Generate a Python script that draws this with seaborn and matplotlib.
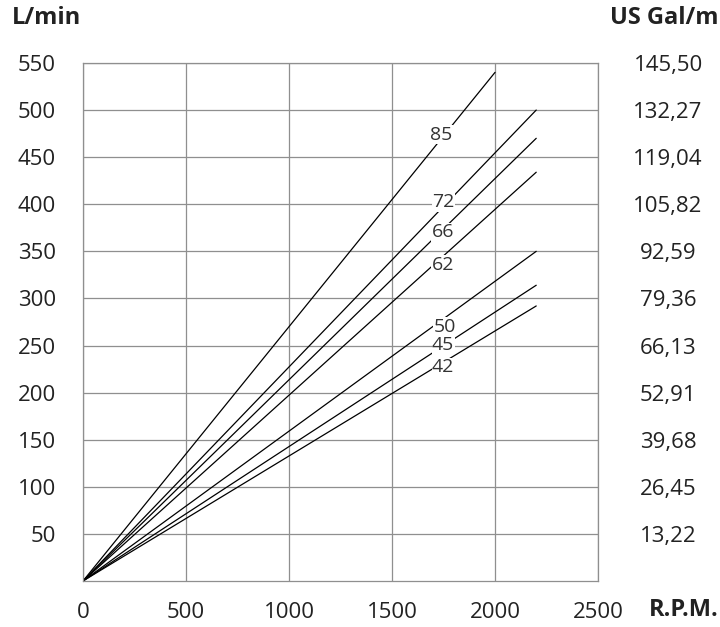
import pandas as pd
import matplotlib
matplotlib.use("Agg")
import matplotlib.pyplot as plt
import seaborn as sns

# pump curves: flow (L/min) at max rpm, lines start at origin
models = ["85", "72", "66", "62", "50", "45", "42"]
max_rpm = [2000, 2200, 2200, 2200, 2200, 2200, 2200]
max_flow = [540, 500, 470, 434, 350, 314, 292]
# where the curve labels sit (rpm, L/min)
label_x = [1738, 1748, 1748, 1748, 1757, 1748, 1748]
label_y = [474, 402, 370, 336, 270, 251, 227]

y_ticks = [50, 100, 150, 200, 250, 300, 350, 400, 450, 500, 550]
gal_labels = ["13,22", "26,45", "39,68", "52,91", "66,13", "79,36",
              "92,59", "105,82", "119,04", "132,27", "145,50"]
x_ticks = [0, 500, 1000, 1500, 2000, 2500]

rows = []
for m, r, f in zip(models, max_rpm, max_flow):
    rows.append({"model": m, "rpm": 0, "flow": 0})
    rows.append({"model": m, "rpm": r, "flow": f})
df = pd.DataFrame(rows)

sns.set_style("white")
plt.rcParams["font.family"] = ["Open Sans", "DejaVu Sans"]

fig = plt.figure(figsize=(7.2, 6.27), dpi=100)
ax = fig.add_axes([0.1153, 0.0734, 0.7153, 0.8262])

sns.lineplot(data=df, x="rpm", y="flow", hue="model",
             palette=["black"] * len(models), linewidth=0.9,
             legend=False, ax=ax)

# curve labels with a white box breaking the line behind them
for m, lx, ly in zip(models, label_x, label_y):
    ax.text(lx, ly, m, fontsize=14, color="#333333",
            ha="center", va="center", zorder=5,
            bbox=dict(facecolor="white", edgecolor="none", pad=0.3))

ax.set_xlim(0, 2500)
ax.set_ylim(0, 550)
ax.set_xticks(x_ticks)
ax.set_yticks(y_ticks)
ax.grid(True, color="#8f8f8f", linewidth=0.9)
for s in ax.spines.values():
    s.set_color("#8f8f8f")
    s.set_linewidth(0.9)
ax.tick_params(axis="x", length=0, pad=15, labelsize=16, colors="#222222")
ax.tick_params(axis="y", length=0, pad=19.5, labelsize=16, colors="#222222")
ax.set_xlabel("")
ax.set_ylabel("")

# US gallon scale on the right, centred in its column
gal_tf = ax.get_yaxis_transform()
for yv, g in zip(y_ticks, gal_labels):
    ax.text(1.136, yv, g, transform=gal_tf, fontsize=16, color="#222222",
            ha="center", va="center_baseline", clip_on=False)

fig.text(0.016, 0.971, "L/min", fontsize=17, fontweight="bold",
         ha="left", va="center", color="#222222")
fig.text(0.998, 0.971, "US Gal/m", fontsize=17, fontweight="bold",
         ha="right", va="center", color="#222222")
fig.text(0.998, 0.027, "R.P.M.", fontsize=17, fontweight="bold",
         ha="right", va="center", color="#222222")

fig.savefig("out.png", dpi=100, facecolor="white")
